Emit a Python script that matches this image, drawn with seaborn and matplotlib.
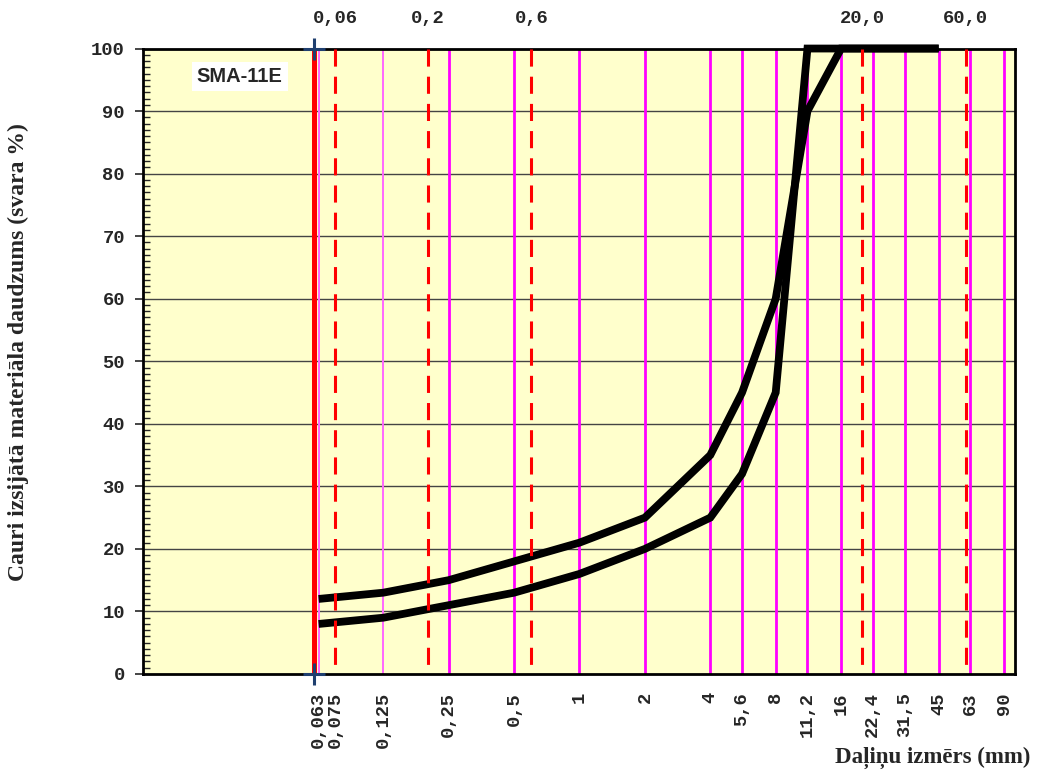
import numpy as np
import pandas as pd
import seaborn as sns
import matplotlib
matplotlib.use("Agg")
import matplotlib.pyplot as plt
from matplotlib.ticker import FixedLocator, MultipleLocator, NullFormatter
from matplotlib.transforms import blended_transform_factory

# grading envelope (sieve size mm -> % passing)
sieves = [0.063, 0.125, 0.25, 0.5, 1, 2, 4, 5.6, 8, 11.2, 16, 22.4, 31.5, 45]
upper = [12, 13, 15, 18, 21, 25, 35, 45, 60, 90, 100, 100, 100, 100]
lower = [8, 9, 11, 13, 16, 20, 25, 32, 45, 100, 100, 100, 100, 100]

# bottom axis sieve ticks
tick_vals = [0.063, 0.075, 0.125, 0.25, 0.5, 1, 2, 4, 5.6, 8, 11.2, 16, 22.4, 31.5, 45, 63, 90]
tick_text = ["0,063", "0,075", "0,125", "0,25", "0,5", "1", "2", "4", "5,6", "8",
             "11,2", "16", "22,4", "31,5", "45", "63", "90"]

# vertical guide lines
pink_lines = [0.063, 0.125]
magenta_lines = [0.25, 0.5, 1, 2, 4, 5.6, 8, 11.2, 16, 22.4, 31.5, 45, 63, 90]
red_solid = 0.06
red_dashed = [0.075, 0.2, 0.6, 20, 60]
red_dashed_text = ["0,06", "0,2", "0,6", "20,0", "60,0"]

sns.set_style("ticks")
plt.rcParams["font.family"] = ["Liberation Mono", "DejaVu Sans Mono"]

fig = plt.figure(figsize=(10.41, 7.74), dpi=100)
ax = fig.add_axes([0.1374, 0.1292, 0.975 - 0.1374, 0.9373 - 0.1292])
ax.set_facecolor("#FFFFCC")

ax.set_xscale("log")
ax.set_xlim(0.0098, 101)
ax.set_ylim(0, 100)

# horizontal grid
for yv in range(10, 100, 10):
    ax.axhline(yv, color="#444444", lw=1.0, zorder=1)

for xv in pink_lines:
    ax.axvline(xv, color="#FF66FF", lw=1.4, zorder=2)
for xv in magenta_lines:
    ax.axvline(xv, color="#FF00FF", lw=2.0, zorder=2)

df = pd.DataFrame({
    "size": sieves + sieves,
    "pass": upper + lower,
    "curve": ["upper"] * len(sieves) + ["lower"] * len(sieves),
})
sns.lineplot(data=df, x="size", y="pass", hue="curve", units="curve", estimator=None,
             sort=False, palette=["black", "black"], lw=5.6, legend=False, ax=ax, zorder=4)
for ln in ax.get_lines()[-2:]:
    ln.set_solid_capstyle("butt")
    ln.set_solid_joinstyle("miter")
    ln.set_clip_on(False)

for xv in red_dashed:
    ax.plot([xv, xv], [100, 0], color="#FF0000", lw=2.2, ls=(0, (5.6, 3.3)), zorder=5)

ax.plot([red_solid, red_solid], [0, 100], color="#FF0000", lw=3.6, zorder=6,
        solid_capstyle="butt")
ax.plot([red_solid, red_solid], [0, 100], ls="none", marker="+", ms=16, mew=2.2,
        color="#1F3F6F", zorder=7, clip_on=False)

# axes styling
for s in ax.spines.values():
    s.set_linewidth(2.0)
    s.set_color("black")
    s.set_zorder(3)

ax.xaxis.set_major_locator(FixedLocator(tick_vals))
ax.set_xticklabels(tick_text, rotation=90, fontsize=13.5, fontweight="bold",
                   va="top", ha="center")
ax.xaxis.set_minor_locator(FixedLocator([]))
ax.xaxis.set_minor_formatter(NullFormatter())
ax.tick_params(axis="x", length=0, pad=13)

ax.yaxis.set_major_locator(MultipleLocator(10))
ax.yaxis.set_minor_locator(MultipleLocator(1))
ax.tick_params(axis="y", which="major", direction="out", length=6, width=1.2, pad=7,
               labelsize=13.5)
ax.tick_params(axis="y", which="minor", direction="in", length=5, width=1.0)
for lab in ax.get_yticklabels():
    lab.set_fontweight("bold")
ax.set_xlabel("")
ax.set_ylabel("")

# top labels for the red dashed lines
trans = blended_transform_factory(ax.transData, fig.transFigure)
for xv, t in zip(red_dashed, red_dashed_text):
    ax.text(xv, 1 - 19 / 774, t, transform=trans, ha="center", va="center",
            fontsize=13.5, fontweight="bold")

ax.text(0.111, 0.955, "SMA-11E", transform=ax.transAxes, ha="center", va="center",
        fontsize=14.5, fontweight="bold", family=["Liberation Sans", "DejaVu Sans"],
        bbox=dict(facecolor="white", edgecolor="none", pad=3.5), zorder=8)

fig.text(18 / 1041, 0.545, "Cauri izsijātā materiāla daudzums (svara %)", rotation=90,
         ha="center", va="center", fontsize=17, fontweight="bold",
         family=["Liberation Serif", "DejaVu Serif"])
fig.text(1030 / 1041, 1 - 763 / 774, "Daļiņu izmērs (mm)", ha="right", va="baseline",
         fontsize=16.5, fontweight="bold", family=["Liberation Serif", "DejaVu Serif"])

fig.savefig("out.png", dpi=100)
